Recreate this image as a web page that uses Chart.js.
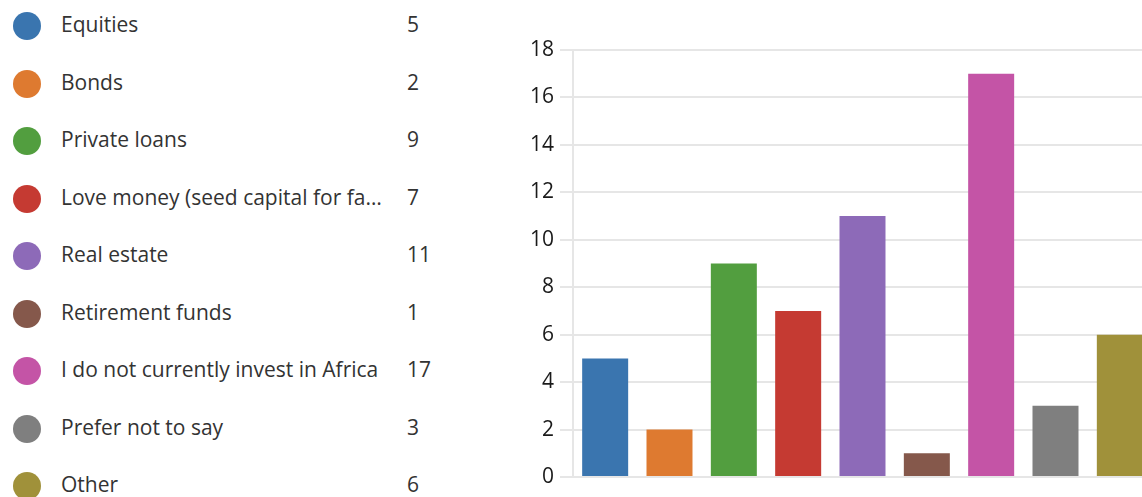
<!DOCTYPE html>
<html>
<head>
<meta charset="utf-8">
<script src="https://cdn.jsdelivr.net/npm/chart.js@4.4.1/dist/chart.umd.min.js"></script>
<style>
  html, body { margin: 0; padding: 0; background: #fff; overflow: hidden; }
  body { width: 1142px; height: 497px; position: relative; font-family: 'Open Sans', 'Noto Sans', sans-serif; }
  #legend { position: absolute; left: 0; top: 0; }
  .row { position: absolute; left: 0; height: 30px; width: 460px; color: #333; font-size: 21px; }
  .dot { position: absolute; left: 13px; top: 1px; width: 28px; height: 28px; border-radius: 50%; }
  .lbl { position: absolute; left: 61px; top: -1px; white-space: nowrap; }
  .cnt { position: absolute; left: 407px; top: -1px; }
  #wrap { position: absolute; left: 500px; top: 0; width: 664px; height: 497px; }
</style>
</head>
<body>
<div id="legend"></div>
<div id="wrap"><canvas id="chart"></canvas></div>
<script>
/* global Chart */

const categories = [
  'Equities',
  'Bonds',
  'Private loans',
  'Love money (seed capital for fa…',
  'Real estate',
  'Retirement funds',
  'I do not currently invest in Africa',
  'Prefer not to say',
  'Other'
];
const counts = [5, 2, 9, 7, 11, 1, 17, 3, 6];
const colors = ['#3a75af', '#de7a30', '#529e3f', '#c53a32', '#8d6ab8', '#85584b', '#c454a6', '#7f7f7f', '#a0913a'];
const yTicks = [0, 2, 4, 6, 8, 10, 12, 14, 16, 18];

// legend list on the left
const legend = document.getElementById('legend');
categories.forEach(function(name, i) {
  const row = document.createElement('div');
  row.className = 'row';
  row.style.top = (11 + i * 57.5) + 'px';
  row.innerHTML = '<span class="dot" style="background:' + colors[i] + '"></span>' +
    '<span class="lbl"></span><span class="cnt">' + counts[i] + '</span>';
  row.querySelector('.lbl').textContent = name;
  legend.appendChild(row);
});

const ctx = document.getElementById('chart').getContext('2d');
new Chart(ctx, {
  type: 'bar',
  data: {
    labels: categories,
    datasets: [{
      data: counts,
      backgroundColor: colors,
      borderWidth: 0,
      categoryPercentage: 1,
      barPercentage: 0.715,
    }],
  },
  options: {
    responsive: true,
    maintainAspectRatio: false,
    animation: false,
    layout: { padding: { top: 50, bottom: 12, right: 12 } },
    plugins: { legend: { display: false }, tooltip: { enabled: false } },
    scales: {
      x: {
        grid: { display: false },
        border: { display: false },
        ticks: { display: false },
      },
      y: {
        min: 0,
        max: 18,
        afterFit: function(scale) { scale.width = 73; },
        afterBuildTicks: function(scale) {
          scale.ticks = yTicks.map(function(v) { return { value: v }; });
        },
        grid: { color: '#e6e6e6', lineWidth: 2, tickLength: 13 },
        border: { display: true, color: '#e6e6e6', width: 2 },
        ticks: {
          color: '#1a1a1a',
          padding: 6,
          font: { family: "'Open Sans', 'Noto Sans', sans-serif", size: 21 },
        },
      },
    },
  },
});
</script>
</body>
</html>
